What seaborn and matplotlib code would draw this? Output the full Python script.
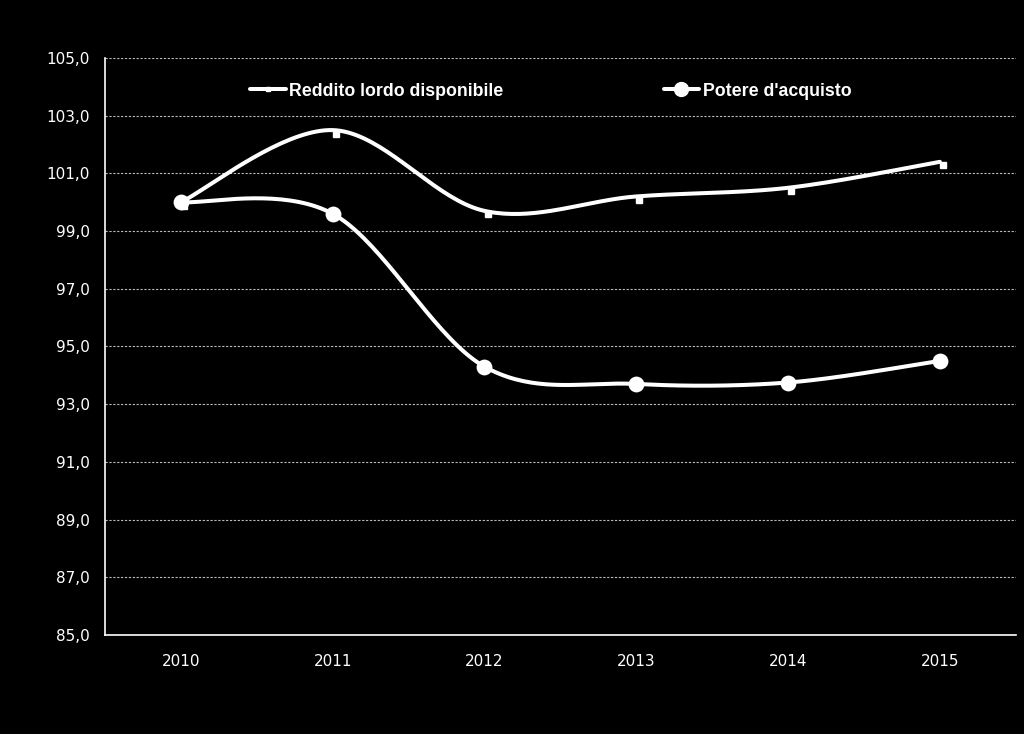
import numpy as np
import pandas as pd
import matplotlib
matplotlib.use("Agg")
import matplotlib.pyplot as plt
import seaborn as sns
from matplotlib.lines import Line2D

years = ["2010", "2011", "2012", "2013", "2014", "2015"]
reddito = [100.0, 102.5, 99.7, 100.2, 100.5, 101.4]
potere = [100.0, 99.6, 94.3, 93.7, 93.75, 94.5]
yticks = [85, 87, 89, 91, 93, 95, 97, 99, 101, 103, 105]
series_names = ["Reddito lordo disponibile", "Potere d'acquisto"]

sns.set_theme(style="dark")
plt.rcParams["font.family"] = ["DejaVu Sans"]


def smooth(xs, ys, n=40):
    """Excel-like Bezier smoothing through the given points."""
    P = np.column_stack([xs, ys]).astype(float)
    ext = np.vstack([P[0], P, P[-1]])
    out = []
    t = np.linspace(0, 1, n)[:, None]
    for i in range(len(P) - 1):
        p0 = ext[i + 1]
        p3 = ext[i + 2]
        c1 = p0 + (ext[i + 2] - ext[i]) / 6.0
        c2 = p3 - (ext[i + 3] - ext[i + 1]) / 6.0
        seg = ((1 - t) ** 3) * p0 + 3 * ((1 - t) ** 2) * t * c1 + 3 * (1 - t) * t ** 2 * c2 + t ** 3 * p3
        out.append(seg if i == 0 else seg[1:])
    arr = np.vstack(out)
    return arr[:, 0], arr[:, 1]


fig = plt.figure(figsize=(10.24, 7.34), dpi=100, facecolor="black")
ax = fig.add_axes([0.1025, 0.135, 0.8895, 0.786])
ax.set_facecolor("black")

x = np.arange(len(years))
for vals, name in zip([reddito, potere], series_names):
    sx, sy = smooth(x, vals)
    df = pd.DataFrame({"x": sx, "y": sy})
    sns.lineplot(data=df, x="x", y="y", ax=ax, color="white", linewidth=2.9,
                 sort=False, estimator=None, legend=False, zorder=4)

pts_r = pd.DataFrame({"x": x, "y": reddito})
pts_p = pd.DataFrame({"x": x, "y": potere})
ax.plot(pts_r["x"] + 0.02, pts_r["y"] - 0.12, linestyle="none", marker="s",
        markersize=4, color="white", zorder=4)
sns.scatterplot(data=pts_p, x="x", y="y", ax=ax, color="white", s=130,
                edgecolor="white", linewidth=0, zorder=5, legend=False)

ax.set_xlim(-0.5, len(years) - 0.5)
ax.set_ylim(85, 105)
ax.set_yticks(yticks)
ax.set_yticklabels([f"{v:.1f}".replace(".", ",") for v in yticks],
                   color="white", fontsize=11)
ax.set_xticks(x)
ax.set_xticklabels(years, color="white", fontsize=11)
ax.set_xticks(np.arange(-0.5, len(years)), minor=True)
ax.tick_params(axis="x", which="major", length=0, pad=14)
ax.tick_params(axis="x", which="minor", length=5, color="white", width=1, direction="out")
ax.tick_params(axis="y", length=5, color="white", width=1, direction="out", pad=6)
ax.set_xlabel("")
ax.set_ylabel("")
ax.grid(False)
for v in yticks:
    if v != 85:
        ax.axhline(v, color="#bbbbbb", linewidth=0.8, linestyle=(0, (2, 1.5)), zorder=1)

for side in ["top", "right"]:
    ax.spines[side].set_visible(False)
for side in ["left", "bottom"]:
    ax.spines[side].set_color("white")
    ax.spines[side].set_linewidth(1.2)

handles = [
    Line2D([0], [0], color="white", linewidth=2.9, marker="s", markersize=3),
    Line2D([0], [0], color="white", linewidth=2.9, marker="o", markersize=10),
]
leg = ax.legend(handles, series_names, loc="upper left", bbox_to_anchor=(0.142, 0.985),
                ncol=2, frameon=False, columnspacing=9.0, handlelength=2.0,
                handletextpad=0.2,
                prop={"family": "Liberation Sans", "weight": "bold", "size": 12.8})
for t in leg.get_texts():
    t.set_color("white")

fig.savefig("out.png", dpi=100, facecolor="black")
